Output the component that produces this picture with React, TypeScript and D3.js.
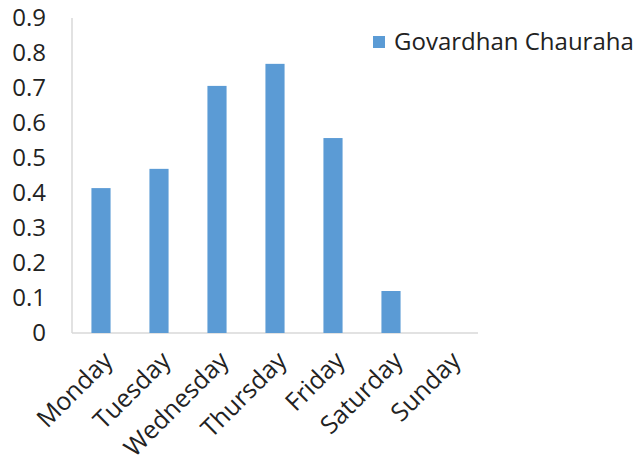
import React, { useEffect, useRef } from 'react'
import * as d3 from 'd3'

const days = ['Monday', 'Tuesday', 'Wednesday', 'Thursday', 'Friday', 'Saturday', 'Sunday']
const values = [0.414, 0.469, 0.706, 0.769, 0.557, 0.12, 0]
const yTicks = [0, 0.1, 0.2, 0.3, 0.4, 0.5, 0.6, 0.7, 0.8, 0.9]
const seriesName = 'Govardhan Chauraha'

export default function App() {
  const ref = useRef<SVGSVGElement>(null)

  useEffect(() => {
    const width = 640, height = 467
    const margin = { top: 18, right: 162, bottom: 134, left: 72 }

    const svg = d3.select(ref.current)
    svg.selectAll('*').remove()

    const font = '"Open Sans", "Liberation Sans", sans-serif'

    const x = d3.scaleBand()
      .domain(days)
      .range([margin.left, width - margin.right])
      .paddingInner(0.67)
      .paddingOuter(0.335)

    const y = d3.scaleLinear()
      .domain([0, 0.9])
      .range([height - margin.bottom, margin.top])

    // axis lines
    svg.append('line')
      .attr('x1', margin.left).attr('x2', margin.left)
      .attr('y1', y(0.9)).attr('y2', y(0))
      .attr('stroke', '#d9d9d9').attr('stroke-width', 1.5)

    svg.append('line')
      .attr('x1', margin.left).attr('x2', width - margin.right)
      .attr('y1', y(0)).attr('y2', y(0))
      .attr('stroke', '#d9d9d9').attr('stroke-width', 1.5)

    // y tick labels
    svg.append('g')
      .selectAll('text')
      .data(yTicks)
      .enter()
      .append('text')
      .attr('x', 46)
      .attr('y', d => y(d))
      .attr('dy', '0.35em')
      .attr('text-anchor', 'end')
      .attr('font-family', font)
      .attr('font-size', 24)
      .attr('fill', '#222')
      .text(d => d === 0 ? '0' : d3.format('.1f')(d))

    // bars
    svg.append('g')
      .selectAll('rect')
      .data(values)
      .enter()
      .append('rect')
      .attr('x', (d, i) => x(days[i])!)
      .attr('width', x.bandwidth())
      .attr('y', d => y(d))
      .attr('height', d => y(0) - y(d))
      .attr('fill', '#5b9bd5')

    // x labels, rotated
    svg.append('g')
      .selectAll('text')
      .data(days)
      .enter()
      .append('text')
      .attr('transform', d => 'translate(' + (x(d)! + x.bandwidth() / 2 + 7) + ',' + (y(0) + 23) + ') rotate(-45)')
      .attr('text-anchor', 'end')
      .attr('dy', '0.35em')
      .attr('font-family', font)
      .attr('font-size', 25)
      .attr('fill', '#222')
      .text(d => d)

    // legend
    const lg = svg.append('g').attr('transform', 'translate(373,36)')
    lg.append('rect').attr('width', 12).attr('height', 12).attr('fill', '#5b9bd5')
    lg.append('text')
      .attr('x', 21).attr('y', 6)
      .attr('dy', '0.35em')
      .attr('font-family', font)
      .attr('font-size', 24)
      .attr('fill', '#222')
      .text(seriesName)
  }, [])

  return (
    <svg ref={ref} width={640} height={467}
      style={{ position: 'absolute', left: 0, top: 0, background: '#fff' }} />
  )
}
